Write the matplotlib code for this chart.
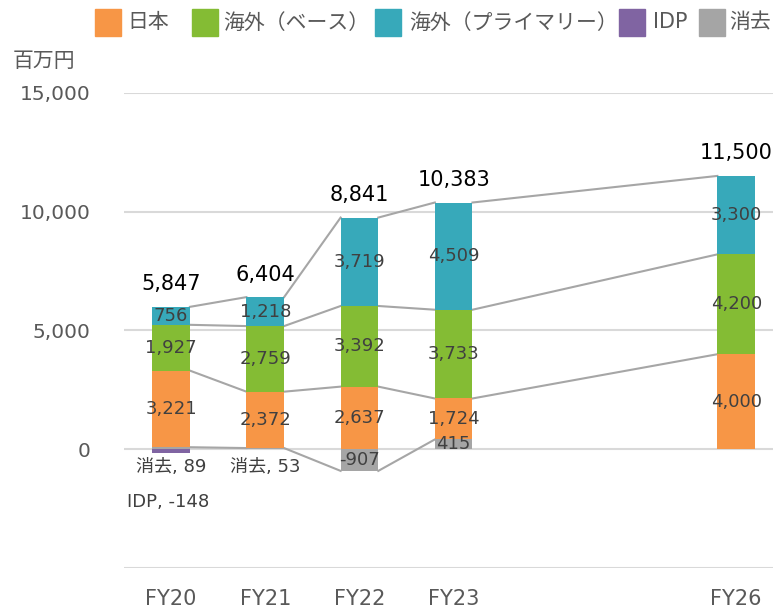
import matplotlib
matplotlib.use('Agg')
import matplotlib.pyplot as plt
from matplotlib.patches import Rectangle

plt.rcParams['font.family'] = ['DejaVu Sans', 'Noto Sans CJK JP']

# data (百万円)
years = ['FY20', 'FY21', 'FY22', 'FY23', 'FY26']
japan = [3221, 2372, 2637, 1724, 4000]
base = [1927, 2759, 3392, 3733, 4200]
primary = [756, 1218, 3719, 4509, 3300]
idp = [-148, 0, 0, 0, 0]
elim = [89, 53, -907, 415, 0]
totals = [5847, 6404, 8841, 10383, 11500]
names = ['日本', '海外（ベース）', '海外（プライマリー）', 'IDP', '消去']

colors = ['#F79646', '#84BC34', '#37A9BA', '#8064A2', '#A5A5A5']
xpos = [0, 1, 2, 3, 6]
w = 0.4
W, H = 773, 608

fig = plt.figure(figsize=(W / 100, H / 100), dpi=100)
ax = fig.add_axes([124 / W, 39.8 / H, 1 - 124 / W, 475.5 / H])

lbl = dict(ha='center', va='center', fontsize=13, color='#404040')

levels = {'elim': [], 'japan': [], 'base': [], 'primary': []}
for i, x in enumerate(xpos):
    pos = max(elim[i], 0)
    neg = idp[i]
    if elim[i] > 0:
        ax.bar(x, elim[i], w, bottom=0, color=colors[4], zorder=2)
    if idp[i] < 0:
        ax.bar(x, idp[i], w, bottom=0, color=colors[3], zorder=2)
    if elim[i] < 0:
        ax.bar(x, elim[i], w, bottom=neg, color=colors[4], zorder=2)
    levels['elim'].append(elim[i] + (neg if elim[i] < 0 else 0))
    bottom = pos
    for key, vals, c in [('japan', japan, colors[0]), ('base', base, colors[1]),
                         ('primary', primary, colors[2])]:
        ax.bar(x, vals[i], w, bottom=bottom, color=c, zorder=2)
        ax.text(x, bottom + vals[i] / 2, f'{vals[i]:,}', **lbl)
        bottom += vals[i]
        levels[key].append(bottom)
    ax.annotate(f'{totals[i]:,}', (x, bottom), xytext=(0, 9), textcoords='offset points',
                ha='center', va='bottom', fontsize=15, color='black')
    # elimination / IDP labels
    if elim[i] != 0:
        if abs(elim[i]) < 200:
            ax.annotate(f'消去, {elim[i]}', (x, 0), xytext=(0, -13), textcoords='offset points',
                        ha='center', va='center', fontsize=13, color='#404040')
        else:
            ax.text(x, (elim[i] / 2) + (neg if elim[i] < 0 else 0), f'{elim[i]:,}', **lbl)
    if idp[i] != 0:
        ax.annotate(f'IDP, {idp[i]}', (x, 0), xytext=(-2, -38), textcoords='offset points',
                    ha='center', va='center', fontsize=13, color='#404040')

# series lines
for key in ['elim', 'japan', 'base', 'primary']:
    vals = levels[key]
    for i in range(len(xpos) - 1):
        if key == 'elim' and elim[i + 1] == 0:
            continue
        ax.plot([xpos[i] + w / 2, xpos[i + 1] - w / 2], [vals[i], vals[i + 1]],
                color='#A6A6A6', lw=1.5, zorder=1)

ax.set_xlim(-0.5, (773 - 171) / 94.2)
ax.set_ylim(-5000, 15000)
ax.set_yticks([-5000, 0, 5000, 10000, 15000])
ax.set_yticklabels(['', '0', '5,000', '10,000', '15,000'])
ax.set_xticks(xpos)
ax.set_xticklabels(years)
ax.tick_params(axis='y', length=0, pad=24, labelsize=14.5, labelcolor='#595959')
ax.tick_params(axis='x', length=0, pad=15, labelsize=15, labelcolor='#595959')
ax.grid(axis='y', color='#D9D9D9', lw=1.5, zorder=0)
ax.set_axisbelow(True)
for s in ax.spines.values():
    s.set_visible(False)

fig.text(13 / W, 1 - 61 / H, '百万円', ha='left', va='center', fontsize=15, color='#595959')

# legend, laid out like the Excel one
sq_x = [95, 192, 375, 619, 699]
txt_x = [127, 223, 409, 653, 729]
for c, name, sx, tx in zip(colors, names, sq_x, txt_x):
    fig.patches.append(Rectangle((sx / W, 1 - 36 / H), 26 / W, 27 / H, color=c,
                                 transform=fig.transFigure, figure=fig))
    fig.text(tx / W, 1 - 22.5 / H, name, ha='left', va='center', fontsize=15, color='#595959')

fig.savefig('out.png', dpi=100)
